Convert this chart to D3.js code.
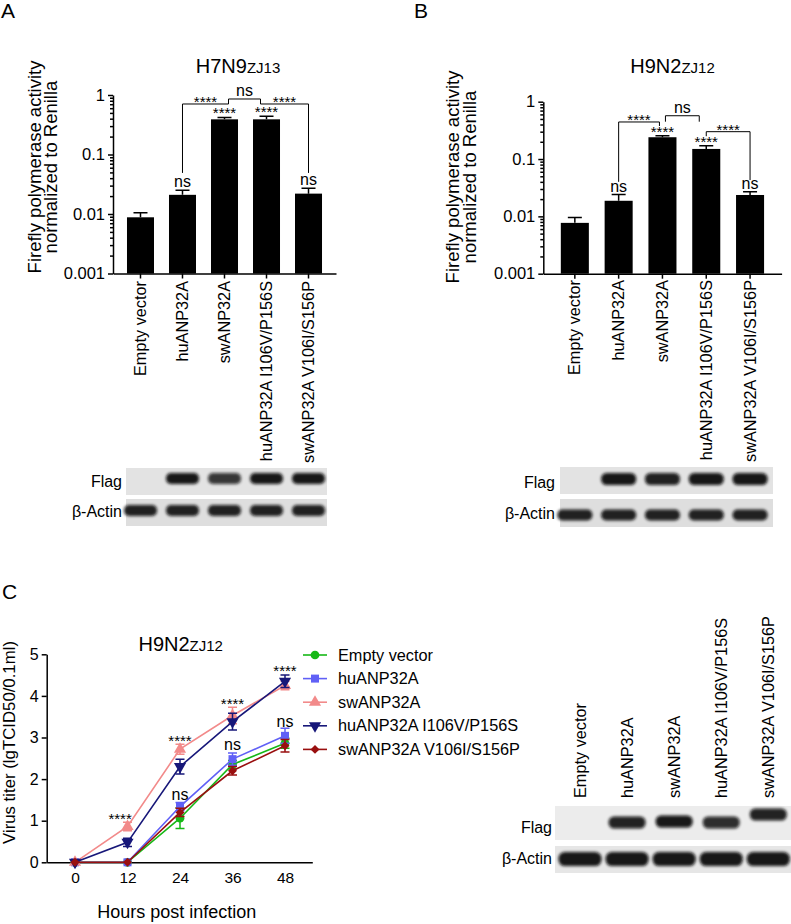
<!DOCTYPE html>
<html>
<head>
<meta charset="utf-8">
<style>
  body { margin: 0; background: #fff; }
  svg text { font-family: "Liberation Sans", Arial, Helvetica, sans-serif; fill: #000; }
  .axis path, .axis line { stroke: #000; stroke-width: 1.5; }
  .axis text { font-family: "Liberation Sans", Arial, sans-serif; }
</style>
</head>
<body>
<svg width="791" height="924"></svg>
<script src="https://cdn.jsdelivr.net/npm/d3@7"></script>
<script>

var constructs = ["Empty vector", "huANP32A", "swANP32A", "huANP32A I106V/P156S", "swANP32A V106I/S156P"];

// A: H7N9 ZJ13 polymerase activity (bar = mean, err = top of error bar)
var meanA = [0.0088, 0.021, 0.39, 0.39, 0.022];
var errA = [0.0105, 0.025, 0.42, 0.44, 0.027];
var starsA = ["", "ns", "****", "****", "ns"];

// B: H9N2 ZJ12 polymerase activity
var meanB = [0.0077, 0.0187, 0.24, 0.15, 0.0236];
var errB = [0.0096, 0.024, 0.255, 0.17, 0.027];
var starsB = ["", "ns", "****", "****", "ns"];

var logTicks = [1, 0.1, 0.01, 0.001];

// comparison brackets: [bar index, pixel nudge, value]
var bracketsA = [
	{ label: "****", pts: [[1, 0, 0.049], [1, 0, 0.706], [2, 4, 0.706]] },
	{ label: "ns", pts: [[2, 4, 0.706], [2, 4, 0.857], [3, -6, 0.857], [3, -6, 0.706]] },
	{ label: "****", pts: [[3, -6, 0.706], [4, 0, 0.706], [4, 0, 0.049]] }
];
var bracketsB = [
	{ label: "****", pts: [[1, 0, 0.040], [1, 0, 0.443], [2, -3, 0.443], [2, -3, 0.377]] },
	{ label: "ns", pts: [[2, 3, 0.448], [2, 3, 0.569], [3, -7, 0.569], [3, -7, 0.448]] },
	{ label: "****", pts: [[3, 0, 0.25], [3, 0, 0.30], [4, 0, 0.30], [4, 0, 0.043]] }
];

// C: H9N2 ZJ12 growth curves
var hours = [0, 12, 24, 36, 48];
var titerEmpty = [0, 0, 1.06, 2.35, 2.86];
var titerHu = [0, 0, 1.34, 2.48, 3.04];
var titerSw = [0, 0.86, 2.72, 3.53, 4.25];
var titerHuMut = [0, 0.48, 2.3, 3.38, 4.35];
var titerSwMut = [0, 0, 1.2, 2.2, 2.8];
var sdEmpty = [0, 0, 0.25, 0.1, 0.12];
var sdHu = [0, 0, 0.1, 0.15, 0.18];
var sdSw = [0, 0.1, 0.12, 0.2, 0.1];
var sdHuMut = [0, 0.1, 0.18, 0.2, 0.15];
var sdSwMut = [0, 0, 0.1, 0.1, 0.15];
var yTicksC = [0, 1, 2, 3, 4, 5];
var sigC = [
	{ h: 10.3, v: 1.12, t: "****" }, { h: 24, v: 3.01, t: "****" }, { h: 24, v: 1.62, t: "ns" },
	{ h: 36, v: 3.88, t: "****" }, { h: 36, v: 2.82, t: "ns" },
	{ h: 48, v: 4.69, t: "****" }, { h: 48, v: 3.38, t: "ns" }
];

// western blot band strength per lane
var flagA = [0, 0.95, 0.8, 0.95, 0.95];
var actinA = [0.9, 0.9, 0.9, 0.9, 0.9];
var flagB = [0, 0.95, 0.9, 0.95, 0.95];
var actinB = [0.9, 0.9, 0.9, 0.9, 0.9];
var flagC = [0, 0.9, 0.95, 0.85, 0.9];
var actinC = [0.95, 0.95, 0.95, 0.95, 0.95];

var svg = d3.select("svg");

svg.append("defs").append("filter")
	.attr("id", "blur")
	.attr("x", "-30%").attr("y", "-80%").attr("width", "160%").attr("height", "260%")
	.append("feGaussianBlur").attr("stdDeviation", 1.6);

function panelLetter(t, x, y) {
	svg.append("text").attr("x", x).attr("y", y).attr("font-size", 21).text(t);
}

function title(x, y, main, sub) {
	var t = svg.append("text").attr("x", x).attr("y", y).attr("text-anchor", "middle");
	t.append("tspan").attr("font-size", 20).text(main);
	t.append("tspan").attr("font-size", 15).text(sub);
}

function barPanel(p) {
	var x = d3.scaleBand()
		.domain(constructs)
		.range([p.left, p.right])
		.paddingInner(p.padIn)
		.paddingOuter(p.padOut);
	var y = d3.scaleLog()
		.domain([0.001, 1])
		.range([p.bottom, p.top]);
	var cx = function (i) { return x(constructs[i]) + x.bandwidth() / 2; };
	var g = svg.append("g");

	// error bars (upper only)
	g.selectAll(".err")
		.data(p.err)
		.enter().append("path")
		.attr("fill", "none")
		.attr("stroke", "#000")
		.attr("stroke-width", 1.5)
		.attr("d", function (d, i) {
			return "M" + cx(i) + "," + y(p.mean[i]) + "V" + y(d) +
				"M" + (cx(i) - 7) + "," + y(d) + "H" + (cx(i) + 7);
		});

	g.selectAll(".bar")
		.data(p.mean)
		.enter().append("rect")
		.attr("x", function (d, i) { return x(constructs[i]); })
		.attr("y", function (d) { return y(d); })
		.attr("width", x.bandwidth())
		.attr("height", function (d) { return p.bottom - y(d); })
		.attr("fill", "#000");

	// y axis
	var minor = [];
	[0.001, 0.01, 0.1].forEach(function (k) {
		for (var m = 2; m <= 9; m++) minor.push(k * m);
	});
	g.append("g")
		.attr("class", "axis")
		.attr("transform", "translate(" + p.left + ",0)")
		.call(d3.axisLeft(y).tickValues(minor).tickSize(3).tickFormat(""))
		.call(function (a) { a.select(".domain").remove(); });
	g.append("g")
		.attr("class", "axis")
		.attr("transform", "translate(" + p.left + ",0)")
		.call(d3.axisLeft(y).tickValues(logTicks).tickSize(5).tickSizeOuter(0).tickPadding(3)
			.tickFormat(function (d) { return String(d); }))
		.selectAll("text").attr("font-size", 16.5);

	// x axis
	g.append("g")
		.attr("class", "axis")
		.attr("transform", "translate(0," + p.bottom + ")")
		.call(d3.axisBottom(x).tickSize(5).tickSizeOuter(0).tickFormat(""));

	g.selectAll(".cat")
		.data(constructs)
		.enter().append("text")
		.attr("transform", function (d, i) {
			return "translate(" + (cx(i) + 5.5) + "," + p.catTop + ") rotate(-90)";
		})
		.attr("text-anchor", "end")
		.attr("font-size", 16.3)
		.text(function (d) { return d; });

	// y label
	var yl = svg.append("g");
	yl.append("text")
		.attr("transform", "translate(" + p.ylab[0] + "," + p.ylabCy + ") rotate(-90)")
		.attr("text-anchor", "middle").attr("font-size", 18.5)
		.text("Firefly polymerase activity");
	yl.append("text")
		.attr("transform", "translate(" + p.ylab[1] + "," + p.ylabCy + ") rotate(-90)")
		.attr("text-anchor", "middle").attr("font-size", 18.5)
		.text("normalized to Renilla");

	// stars above bars
	g.selectAll(".star")
		.data(p.stars)
		.enter().append("text")
		.attr("x", function (d, i) { return cx(i); })
		.attr("y", function (d, i) { return d === "ns" ? y(p.err[i]) - 3 : y(p.err[i]) + 1; })
		.attr("text-anchor", "middle")
		.attr("font-size", function (d) { return d === "ns" ? 16 : 15; })
		.text(function (d) { return d; });

	// brackets
	var line = d3.line()
		.x(function (d) { return cx(d[0]) + d[1]; })
		.y(function (d) { return y(d[2]); });
	p.brackets.forEach(function (b) {
		g.append("path")
			.attr("d", line(b.pts))
			.attr("fill", "none")
			.attr("stroke", "#000")
			.attr("stroke-width", 1);
		var xs = b.pts.map(function (d) { return cx(d[0]) + d[1]; });
		var top = d3.min(b.pts, function (d) { return y(d[2]); });
		g.append("text")
			.attr("x", (d3.min(xs) + d3.max(xs)) / 2)
			.attr("y", b.label === "ns" ? top - 2.5 : top + 3)
			.attr("text-anchor", "middle")
			.attr("font-size", b.label === "ns" ? 16 : 15)
			.text(b.label);
	});

	return cx;
}

function blot(cfg) {
	var g = svg.append("g");
	cfg.rows.forEach(function (r) {
		g.append("rect")
			.attr("x", cfg.x0).attr("y", r.y0)
			.attr("width", cfg.x1 - cfg.x0).attr("height", r.y1 - r.y0)
			.attr("fill", r.bg);
		g.append("text")
			.attr("x", cfg.labelX).attr("y", r.base)
			.attr("text-anchor", "end").attr("font-size", 16)
			.text(r.name);
		var lanes = r.levels.map(function (v, i) { return { v: v, i: i }; })
			.filter(function (d) { return d.v > 0; });
		g.selectAll(null)
			.data(lanes)
			.enter().append("rect")
			.attr("x", function (d) { return cfg.lane(d.i) - r.w / 2; })
			.attr("y", function (d) { return r.mid - r.h / 2 + (r.shift ? r.shift[d.i] : 0); })
			.attr("width", r.w)
			.attr("height", r.h)
			.attr("rx", r.h / 2.2)
			.attr("fill", "#0a0a0a")
			.attr("opacity", function (d) { return d.v; })
			.attr("filter", "url(#blur)");
	});
}

// ---------- A ----------
panelLetter("A", 1, 18);
title(238, 73, "H7N9", "ZJ13");
var laneA = barPanel({
	left: 113, right: 336, padIn: 0.357, padOut: 0.333, top: 95, bottom: 273.5,
	mean: meanA, err: errA, stars: starsA, brackets: bracketsA,
	ylab: [40.5, 57], ylabCy: 167, catTop: 281
});
blot({
	x0: 126, x1: 327, labelX: 122, lane: laneA,
	rows: [
		{ name: "Flag", y0: 468, y1: 495, bg: "#e3e3e3", base: 487, levels: flagA, mid: 478.5, h: 11, w: 33 },
		{ name: "β-Actin", y0: 499, y1: 526, bg: "#dedede", base: 517, levels: actinA, mid: 510.5, h: 11, w: 33 }
	]
});

// ---------- B ----------
panelLetter("B", 414, 18);
title(672.5, 73, "H9N2", "ZJ12");
var laneB = barPanel({
	left: 543.3, right: 781.6, padIn: 0.36, padOut: 0.4, top: 101.7, bottom: 273.7,
	mean: meanB, err: errB, stars: starsB, brackets: bracketsB,
	ylab: [459, 476], ylabCy: 177, catTop: 280
});
blot({
	x0: 560, x1: 773, labelX: 555, lane: laneB,
	rows: [
		{ name: "Flag", y0: 467, y1: 494, bg: "#e3e3e3", base: 488, levels: flagB, mid: 479, h: 12, w: 35 },
		{ name: "β-Actin", y0: 499, y1: 527, bg: "#dedede", base: 519, levels: actinB, mid: 515, h: 11, w: 35 }
	]
});

// ---------- C ----------
panelLetter("C", 2, 599);
title(180.7, 651, "H9N2", "ZJ12");

var xC = d3.scaleLinear().domain([-6.47, 54.24]).range([46.7, 312.3]);
var yC = d3.scaleLinear().domain([0, 5]).range([862.3, 654.3]);

var gC = svg.append("g");
gC.append("g")
	.attr("class", "axis")
	.attr("transform", "translate(0,862.3)")
	.call(d3.axisBottom(xC).tickValues(hours).tickSize(0).tickSizeOuter(0).tickPadding(10)
		.tickFormat(d3.format("d")))
	.selectAll("text").attr("font-size", 15.5);
gC.append("g")
	.attr("class", "axis")
	.attr("transform", "translate(46.7,0)")
	.call(d3.axisLeft(yC).tickValues(yTicksC).tickSize(5).tickSizeOuter(0).tickPadding(3)
		.tickFormat(d3.format("d")))
	.selectAll("text").attr("font-size", 16);

svg.append("text")
	.attr("x", 176.7).attr("y", 918)
	.attr("text-anchor", "middle").attr("font-size", 18)
	.text("Hours post infection");
svg.append("text")
	.attr("transform", "translate(15,742.5) rotate(-90)")
	.attr("text-anchor", "middle").attr("font-size", 16.8)
	.text("Virus titer (lgTCID50/0.1ml)");

var series = [
	{ name: constructs[0], v: titerEmpty, sd: sdEmpty, color: "#16b816", sym: d3.symbolCircle, size: 60, rot: 0 },
	{ name: constructs[1], v: titerHu, sd: sdHu, color: "#6060f6", sym: d3.symbolSquare, size: 64, rot: 0 },
	{ name: constructs[2], v: titerSw, sd: sdSw, color: "#f28a8a", sym: d3.symbolTriangle, size: 64, rot: 0 },
	{ name: constructs[3], v: titerHuMut, sd: sdHuMut, color: "#171779", sym: d3.symbolTriangle, size: 64, rot: 180 },
	{ name: constructs[4], v: titerSwMut, sd: sdSwMut, color: "#990f0f", sym: d3.symbolSquare, size: 40, rot: 45 }
];

var lineC = d3.line()
	.x(function (d, i) { return xC(hours[i]); })
	.y(function (d) { return yC(d); });

series.forEach(function (s) {
	var g = gC.append("g");
	g.append("path")
		.attr("d", lineC(s.v))
		.attr("fill", "none")
		.attr("stroke", s.color)
		.attr("stroke-width", 1.6);
	g.selectAll(".eb")
		.data(s.v)
		.enter().append("path")
		.attr("fill", "none")
		.attr("stroke", s.color)
		.attr("stroke-width", 1.5)
		.attr("d", function (d, i) {
			if (!s.sd[i]) return null;
			var px = xC(hours[i]), lo = yC(d - s.sd[i]), hi = yC(d + s.sd[i]);
			return "M" + px + "," + lo + "V" + hi +
				"M" + (px - 4.5) + "," + lo + "H" + (px + 4.5) +
				"M" + (px - 4.5) + "," + hi + "H" + (px + 4.5);
		});
	g.selectAll(".pt")
		.data(s.v)
		.enter().append("path")
		.attr("d", d3.symbol().type(s.sym).size(s.size))
		.attr("transform", function (d, i) {
			return "translate(" + xC(hours[i]) + "," + yC(d) + ") rotate(" + s.rot + ")";
		})
		.attr("fill", s.color);
});

gC.selectAll(".sig")
	.data(sigC)
	.enter().append("text")
	.attr("x", function (d) { return xC(d.h); })
	.attr("y", function (d) { return d.t === "ns" ? yC(d.v) + 5 : yC(d.v) + 8.5; })
	.attr("text-anchor", "middle")
	.attr("font-size", function (d) { return d.t === "ns" ? 16 : 15; })
	.text(function (d) { return d.t; });

// legend
var legend = svg.append("g");
series.forEach(function (s, i) {
	var ly = 655 + i * 23.6;
	legend.append("line")
		.attr("x1", 303).attr("x2", 327).attr("y1", ly).attr("y2", ly)
		.attr("stroke", s.color).attr("stroke-width", 1.6);
	legend.append("path")
		.attr("d", d3.symbol().type(s.sym).size(s.size))
		.attr("transform", "translate(315," + ly + ") rotate(" + s.rot + ")")
		.attr("fill", s.color);
	legend.append("text")
		.attr("x", 338).attr("y", ly + 5.5)
		.attr("font-size", 16.3)
		.text(s.name);
});

// blot for C
var laneC = d3.scalePoint().domain(constructs).range([580, 768.3]);
var laneCi = function (i) { return laneC(constructs[i]); };
svg.selectAll(".catC")
	.data(constructs)
	.enter().append("text")
	.attr("transform", function (d, i) {
		return "translate(" + (laneCi(i) + 5.5) + ",798) rotate(-90)";
	})
	.attr("font-size", 16.3)
	.text(function (d) { return d; });
blot({
	x0: 555, x1: 791, labelX: 552, lane: laneCi,
	rows: [
		{ name: "Flag", y0: 806, y1: 840, bg: "#ececec", base: 833, levels: flagC, mid: 822.5, h: 12, w: 37, shift: [0, 0, -1, 0, -8] },
		{ name: "β-Actin", y0: 846, y1: 873, bg: "#e6e6e6", base: 864, levels: actinC, mid: 859, h: 14, w: 43 }
	]
});

</script>
</body>
</html>
